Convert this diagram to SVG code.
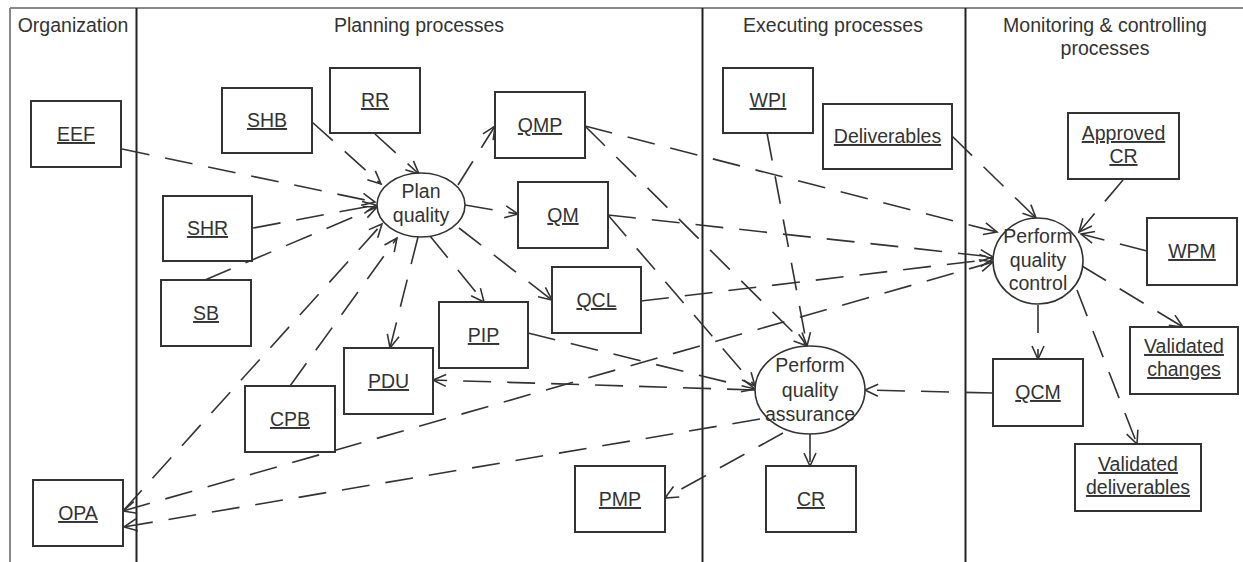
<svg xmlns="http://www.w3.org/2000/svg" width="1243" height="562" viewBox="0 0 1243 562">
<style>
text{font-family:"Liberation Sans",Arial,sans-serif;font-size:19.5px;fill:#333;text-anchor:middle}
.u{text-decoration:underline}
.box{fill:#fff;stroke:#333;stroke-width:2}
.proc{fill:#fff;stroke:#333;stroke-width:1.6}
.c{fill:none;stroke:#333;stroke-width:1.6;stroke-dasharray:28 16}
.a{marker-end:url(#ah)}
.b{marker-start:url(#ah);marker-end:url(#ah)}
.lane{stroke:#222;stroke-width:2}
.edge{stroke:#888;stroke-width:2}
</style>
<defs>
<marker id="ah" viewBox="-14 -8 16 16" refX="0" refY="0" markerWidth="16" markerHeight="16" markerUnits="userSpaceOnUse" orient="auto-start-reverse">
<path d="M-13,-6 L0,0 L-13,6" fill="none" stroke="#333" stroke-width="1.6"/>
</marker>
</defs>
<rect width="1243" height="562" fill="#fff"/>
<g id="lanes">
<line class="edge" x1="10" y1="8" x2="1243" y2="8"/>
<line class="edge" x1="10" y1="8" x2="10" y2="562"/>
<line class="lane" x1="136.5" y1="8" x2="136.5" y2="562"/>
<line class="lane" x1="702.5" y1="8" x2="702.5" y2="562"/>
<line class="lane" x1="965.5" y1="8" x2="965.5" y2="562"/>
<text x="73" y="32">Organization</text>
<text x="419" y="32">Planning processes</text>
<text x="833" y="32">Executing processes</text>
<text x="1105" y="32">Monitoring &amp; controlling</text>
<text x="1105" y="55">processes</text>
</g>
<g id="connectors">
<path class="c a" d="M122,149 L375,202"/>
<path class="c a" d="M312,122 L381,184"/>
<path class="c a" d="M375,134 L419,174"/>
<path class="c a" d="M253,228 L376,205"/>
<path class="c a" d="M205,280 L377,207"/>
<path class="c a" d="M290,386 L397,238"/>
<path class="c a" d="M123,511 L382,224"/>
<path class="c a" d="M458,185 L495,126"/>
<path class="c a" d="M465,205 L518,214"/>
<path class="c a" d="M459,228 L552,300"/>
<path class="c a" d="M430,236 L484,302"/>
<path class="c a" d="M418,237 L390,348"/>
<path class="c a" d="M585,126 L997,232"/>
<path class="c a" d="M585,126 L807,346"/>
<path class="c a" d="M608,215 L993,257"/>
<path class="c a" d="M608,215 L755,386"/>
<path class="c a" d="M641,301 L993,259"/>
<path class="c a" d="M528,333 L755,389"/>
<path class="c a" d="M755,390 L433,380"/>
<path class="c b" d="M123,511 L993,262"/>
<path class="c a" d="M760,419 L124,527"/>
<path class="c a" d="M783,433 L665,498"/>
<path class="c a" d="M810,434 L810,466"/>
<path class="c a" d="M1038,305 L1038,359"/>
<path class="c a" d="M993,393 L865,390"/>
<path class="c a" d="M767,133 L807,346"/>
<path class="c a" d="M952,136 L1036,218"/>
<path class="c a" d="M1123,180 L1079,232"/>
<path class="c a" d="M1147,251 L1081,234"/>
<path class="c a" d="M1082,266 L1183,327"/>
<path class="c a" d="M1077,290 L1137,444"/>
</g>
<g id="EEF"><rect class="box" x="31" y="101" width="90" height="66"/><text class="u" x="76" y="141">EEF</text></g>
<g id="SHB"><rect class="box" x="222" y="88" width="90" height="65"/><text class="u" x="267" y="127">SHB</text></g>
<g id="RR"><rect class="box" x="330" y="68" width="90" height="65"/><text class="u" x="375" y="107">RR</text></g>
<g id="SHR"><rect class="box" x="163" y="196" width="89" height="65"/><text class="u" x="207.5" y="235">SHR</text></g>
<g id="SB"><rect class="box" x="161" y="280" width="90" height="66"/><text class="u" x="206" y="320">SB</text></g>
<g id="CPB"><rect class="box" x="245" y="386" width="90" height="66"/><text class="u" x="290" y="426">CPB</text></g>
<g id="OPA"><rect class="box" x="33" y="480" width="90" height="66"/><text class="u" x="78" y="520">OPA</text></g>
<g id="PDU"><rect class="box" x="344" y="348" width="89" height="66"/><text class="u" x="388.5" y="388">PDU</text></g>
<g id="PIP"><rect class="box" x="439" y="302" width="89" height="66"/><text class="u" x="483.5" y="342">PIP</text></g>
<g id="QMP"><rect class="box" x="495" y="92" width="90" height="66"/><text class="u" x="540" y="132">QMP</text></g>
<g id="QM"><rect class="box" x="518" y="182" width="90" height="66"/><text class="u" x="563" y="222">QM</text></g>
<g id="QCL"><rect class="box" x="552" y="267" width="89" height="66"/><text class="u" x="596.5" y="307">QCL</text></g>
<g id="PMP"><rect class="box" x="575" y="466" width="90" height="66"/><text class="u" x="620" y="506">PMP</text></g>
<g id="WPI"><rect class="box" x="723" y="68" width="90" height="65"/><text class="u" x="768" y="107">WPI</text></g>
<g id="CR"><rect class="box" x="766" y="466" width="90" height="66"/><text class="u" x="811" y="506">CR</text></g>
<g id="Deliverables"><rect class="box" x="823" y="104" width="129" height="65"/><text class="u" x="887.5" y="143">Deliverables</text></g>
<g id="ApprovedCR"><rect class="box" x="1068" y="113" width="111" height="66"/><text class="u" x="1123.5" y="140">Approved</text><text class="u" x="1123.5" y="163">CR</text></g>
<g id="WPM"><rect class="box" x="1147" y="218" width="90" height="67"/><text class="u" x="1192" y="258">WPM</text></g>
<g id="QCM"><rect class="box" x="993" y="359" width="90" height="67"/><text class="u" x="1038" y="399">QCM</text></g>
<g id="ValidatedChanges"><rect class="box" x="1130" y="327" width="108" height="67"/><text class="u" x="1184" y="353">Validated</text><text class="u" x="1184" y="376">changes</text></g>
<g id="ValidatedDeliverables"><rect class="box" x="1075" y="444" width="126" height="67"/><text class="u" x="1138" y="471">Validated</text><text class="u" x="1138" y="494">deliverables</text></g>
<g id="PlanQuality"><ellipse class="proc" cx="421" cy="205" rx="44" ry="32"/><text x="421" y="198">Plan</text><text x="421" y="222">quality</text></g>
<g id="PerformQC"><ellipse class="proc" cx="1038" cy="261" rx="45" ry="43"/><text x="1038" y="243">Perform</text><text x="1038" y="267">quality</text><text x="1038" y="290">control</text></g>
<g id="PerformQA"><ellipse class="proc" cx="810" cy="390" rx="55" ry="44"/><text x="810" y="372">Perform</text><text x="810" y="397">quality</text><text x="810" y="421">assurance</text></g>
</svg>
